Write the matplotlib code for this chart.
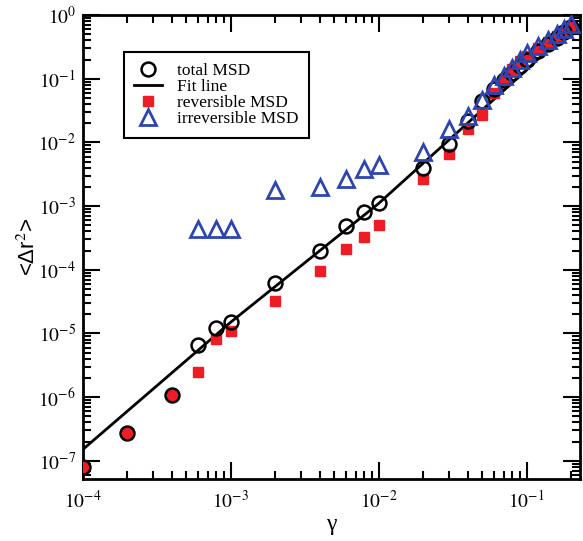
import math
import matplotlib
matplotlib.use('Agg')
import matplotlib.pyplot as plt
from matplotlib.ticker import FixedLocator, FuncFormatter, NullFormatter

# total MSD (open circles)
gamma_tot = [1e-4, 2e-4, 4e-4, 6e-4, 8e-4, 1e-3, 2e-3, 4e-3, 6e-3, 8e-3, 1e-2,
             2e-2, 3e-2, 4e-2, 5e-2, 6e-2, 7e-2, 8e-2, 9e-2, 0.1, 0.12, 0.14, 0.16, 0.18, 0.2]
msd_tot = [8e-8, 2.75e-7, 1.07e-6, 6.5e-6, 1.2e-5, 1.5e-5, 6.2e-5, 2.0e-4, 4.9e-4, 8.1e-4, 1.1e-3,
           3.9e-3, 9.6e-3, 2.2e-2, 4.5e-2, 6.8e-2, 9.5e-2, 0.125, 0.16, 0.2, 0.27, 0.35, 0.44, 0.54, 0.66]

# reversible MSD (red squares)
gamma_rev = [1e-4, 2e-4, 4e-4, 6e-4, 8e-4, 1e-3, 2e-3, 4e-3, 6e-3, 8e-3, 1e-2,
             2e-2, 3e-2, 4e-2, 5e-2, 6e-2, 7e-2, 8e-2, 9e-2, 0.1, 0.12, 0.14, 0.16, 0.18, 0.2]
msd_rev = [8e-8, 2.75e-7, 1.07e-6, 2.5e-6, 8.3e-6, 1.1e-5, 3.2e-5, 9.6e-5, 2.1e-4, 3.3e-4, 5e-4,
           2.7e-3, 6.6e-3, 1.6e-2, 2.7e-2, 5.9e-2, 9.5e-2, 0.14, 0.19, 0.23, 0.3, 0.38, 0.47, 0.56, 0.68]

# irreversible MSD (open triangles)
gamma_irr = [6e-4, 8e-4, 1e-3, 2e-3, 4e-3, 6e-3, 8e-3, 1e-2,
             2e-2, 3e-2, 4e-2, 5e-2, 6e-2, 7e-2, 8e-2, 9e-2, 0.1, 0.12, 0.14, 0.16, 0.18, 0.2]
msd_irr = [4.4e-4, 4.4e-4, 4.4e-4, 1.8e-3, 2.0e-3, 2.7e-3, 3.8e-3, 4.5e-3,
           7.2e-3, 1.6e-2, 2.6e-2, 4.6e-2, 8e-2, 0.11, 0.15, 0.2, 0.25, 0.33, 0.41, 0.5, 0.6, 0.72]

# fit line
gamma_fit = [1e-4, 1e-3, 1e-2, 1e-1, 0.21]
msd_fit = [1.5e-7, 1.5e-5, 1.1e-3, 0.138, 0.70]

# axis decades
x_decades = [-4, -3, -2, -1]
y_decades = [-8, -7, -6, -5, -4, -3, -2, -1, 0]

plt.rcParams['font.family'] = ['Liberation Serif', 'DejaVu Serif']
plt.rcParams['mathtext.fontset'] = 'stix'

fig = plt.figure(figsize=(5.83, 5.41), dpi=100)
ax = fig.add_axes([0.142, 0.115, 0.853, 0.857])

red = '#ee1c24'
blue = '#2e45b0'

ax.plot(gamma_fit, msd_fit, '-', color='black', lw=2, label='Fit line', zorder=2)
ax.plot(gamma_rev, msd_rev, 's', color=red, ms=7.5, mec=red, label='reversible MSD', zorder=3)
ax.plot(gamma_tot, msd_tot, 'o', color='black', mfc='none', ms=10, mew=1.8,
        label='total MSD', zorder=4)
ax.plot(gamma_irr, msd_irr, '^', color=blue, mfc='none', ms=11, mew=2,
        label='irreversible MSD', zorder=5)

ax.set_xscale('log')
ax.set_yscale('log')
xlo, xhi = 1e-4, 0.23
ylo, yhi = 5.2e-8, 1.0
ax.set_xlim(xlo, xhi)
ax.set_ylim(ylo, yhi)

def in_range(vals, lo, hi):
    return [v for v in vals if lo * 0.999 <= v <= hi * 1.001]

x_major = in_range([10.0 ** d for d in x_decades], xlo, xhi)
y_major = in_range([10.0 ** d for d in y_decades], ylo, yhi)
x_minor = in_range([m * 10.0 ** d for d in x_decades for m in range(2, 10)], xlo, xhi)
y_minor = in_range([m * 10.0 ** d for d in y_decades for m in range(2, 10)], ylo, yhi)

fmt = FuncFormatter(lambda v, p: r'$10^{%d}$' % round(math.log10(v)))
ax.xaxis.set_major_locator(FixedLocator(x_major))
ax.yaxis.set_major_locator(FixedLocator(y_major))
ax.xaxis.set_minor_locator(FixedLocator(x_minor))
ax.yaxis.set_minor_locator(FixedLocator(y_minor))
ax.xaxis.set_major_formatter(fmt)
ax.yaxis.set_major_formatter(fmt)
ax.xaxis.set_minor_formatter(NullFormatter())
ax.yaxis.set_minor_formatter(NullFormatter())
ax.tick_params(which='both', direction='in', top=True, right=True, width=1.5)
ax.tick_params(which='major', length=12, labelsize=14)
ax.tick_params(axis='y', which='major', pad=5)
ax.tick_params(axis='x', which='major', pad=8)
ax.tick_params(which='minor', length=6)
for s in ax.spines.values():
    s.set_linewidth(2)

ax.set_xlabel('γ', fontsize=17)
ax.set_ylabel('<Δr$^2$>', fontsize=16, family=['Liberation Sans', 'DejaVu Sans'])
ax.xaxis.set_label_coords(0.5, -0.075)
ax.yaxis.set_label_coords(-0.108, 0.5)
ax.xaxis.label.set_va('top')
ax.yaxis.label.set_va('center')

handles, labels = ax.get_legend_handles_labels()
order = [2, 0, 1, 3]
leg = ax.legend([handles[i] for i in order], [labels[i] for i in order],
                loc='upper left', bbox_to_anchor=(0.082, 0.92), borderaxespad=0,
                fontsize=12.5, fancybox=False, edgecolor='black', framealpha=1,
                labelspacing=0.0, handlelength=1.6, handletextpad=0.9, borderpad=0.6)
leg.get_frame().set_linewidth(1.5)

plt.savefig('out.png', dpi=100)
